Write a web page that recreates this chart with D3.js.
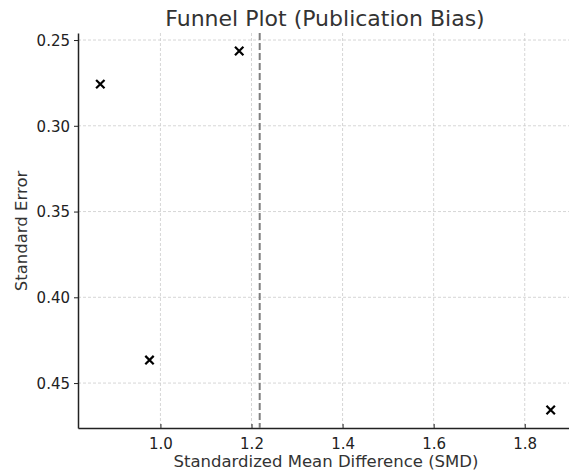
<!DOCTYPE html>
<html lang="en">
<head>
    <meta charset="UTF-8">
    <title>Funnel Plot (Publication Bias)</title>
    <script src="https://d3js.org/d3.v7.min.js"></script>
</head>
<style>
    body { margin: 0; background: #fff; }
    svg text { font-family: "DejaVu Sans", sans-serif; }
</style>
<body>
    <div id="chart"></div>
    <script>
        // study effect sizes and their standard errors
        const smd = [0.868, 1.173, 0.976, 1.857];
        const stdErr = [0.2757, 0.2564, 0.4366, 0.4657];
        const pooled = 1.218;
        const xTicks = [1.0, 1.2, 1.4, 1.6, 1.8];
        const yTicks = [0.25, 0.30, 0.35, 0.40, 0.45];

        const width = 569, height = 473;
        const svg = d3.select('#chart')
            .append('svg')
            .attr('width', width)
            .attr('height', height);

        const x = d3.scaleLinear().domain([0.819, 1.906]).range([78, 573]);
        const y = d3.scaleLinear().domain([0.2459, 0.4762]).range([33, 428]);

        // grid
        svg.append('g')
            .selectAll('line')
            .data(xTicks)
            .enter()
            .append('line')
            .attr('x1', d => x(d)).attr('x2', d => x(d))
            .attr('y1', 33).attr('y2', 428)
            .attr('stroke', '#cccccc')
            .attr('stroke-width', 0.8)
            .attr('stroke-dasharray', '3,2');
        svg.append('g')
            .selectAll('line')
            .data(yTicks)
            .enter()
            .append('line')
            .attr('x1', 78).attr('x2', 573)
            .attr('y1', d => y(d)).attr('y2', d => y(d))
            .attr('stroke', '#cccccc')
            .attr('stroke-width', 0.8)
            .attr('stroke-dasharray', '3,2');

        // axes
        const xAxis = svg.append('g')
            .attr('transform', 'translate(0,428)')
            .call(d3.axisBottom(x).tickValues(xTicks).tickFormat(d3.format('.1f')).tickSizeInner(-4).tickSizeOuter(0).tickPadding(10));
        const yAxis = svg.append('g')
            .attr('transform', 'translate(78,0)')
            .call(d3.axisLeft(y).tickValues(yTicks).tickFormat(d3.format('.2f')).tickSizeInner(4).tickSizeOuter(0).tickPadding(4));
        [xAxis, yAxis].forEach(g => {
            g.select('.domain').attr('stroke', '#222').attr('stroke-width', 1.5);
            g.selectAll('.tick line').attr('stroke', '#222').attr('stroke-width', 1);
            g.selectAll('.tick text').attr('font-size', '15px').attr('fill', '#222')
                .attr('font-family', '"DejaVu Sans", sans-serif');
        });
        yAxis.selectAll('.tick text').attr('dy', '0.35em');

        // pooled estimate
        svg.append('line')
            .attr('x1', x(pooled)).attr('x2', x(pooled))
            .attr('y1', 33).attr('y2', 428)
            .attr('stroke', '#808080')
            .attr('stroke-width', 2)
            .attr('stroke-dasharray', '7,3');

        // studies as x markers
        const s = 4.2;
        const pts = svg.append('g')
            .selectAll('g')
            .data(smd.map((d, i) => ({ smd: d, se: stdErr[i] })))
            .enter()
            .append('g')
            .attr('transform', d => `translate(${x(d.smd)},${y(d.se)})`);
        pts.append('path')
            .attr('d', `M${-s},${-s}L${s},${s}M${-s},${s}L${s},${-s}`)
            .attr('stroke', '#000')
            .attr('stroke-width', 2.2);

        // labels
        svg.append('text')
            .attr('x', 325).attr('y', 26)
            .attr('text-anchor', 'middle')
            .attr('font-size', '22px')
            .attr('fill', '#333')
            .text('Funnel Plot (Publication Bias)');
        svg.append('text')
            .attr('x', 326).attr('y', 467)
            .attr('text-anchor', 'middle')
            .attr('font-size', '16.5px')
            .attr('fill', '#333')
            .text('Standardized Mean Difference (SMD)');
        svg.append('text')
            .attr('transform', 'translate(27,231) rotate(-90)')
            .attr('text-anchor', 'middle')
            .attr('font-size', '16.5px')
            .attr('fill', '#333')
            .text('Standard Error');
    </script>
</body>
</html>
